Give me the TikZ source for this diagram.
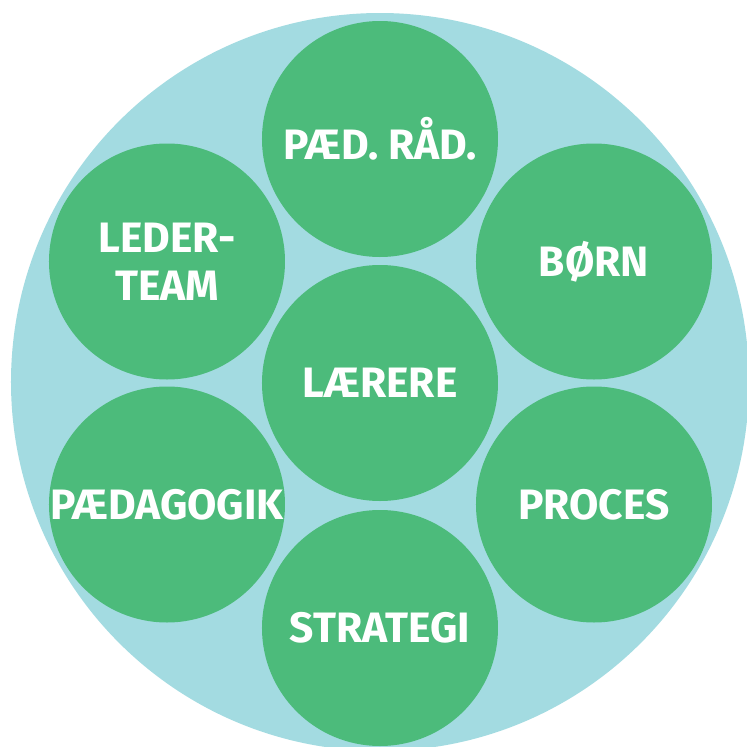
\documentclass[tikz,border=0pt]{standalone}
\usepackage{fontspec}
\setmainfont{Fira Sans}
\definecolor{ring_blue}{RGB}{163, 219, 225}
\definecolor{topic_green}{RGB}{76, 187, 123}
\tikzstyle{topic}=[circle,fill=topic_green,inner sep=0pt,
  minimum width=4.72cm,minimum height=4.72cm,text=white,align=center,
  font=\fontsize{24.2}{27.3}\selectfont\bfseries]

\begin{document}
\begin{tikzpicture}
    \useasboundingbox (-7.6,-7.28) rectangle (7.34,7.66);
    \clip (-7.6,-7.28) rectangle (7.34,7.66);
    \fill [ring_blue] (0,0.02) circle (7.38);
    \node [style=topic] (laerere) at (0,0) {LÆRERE};
    \node [style=topic] (paedraad) at (0,4.88) {PÆD. RÅD.};
    \node [style=topic] (boern) at (4.28,2.43) {BØRN};
    \node [style=topic] (proces) at (4.28,-2.43) {PROCES};
    \node [style=topic] (strategi) at (0,-4.9) {STRATEGI};
    \node [style=topic] (paedagogik) at (-4.26,-2.43) {PÆDAGOGIK};
    \node [style=topic] (lederteam) at (-4.26,2.43) {LEDER-\\TEAM};
  \end{tikzpicture}
\end{document}
